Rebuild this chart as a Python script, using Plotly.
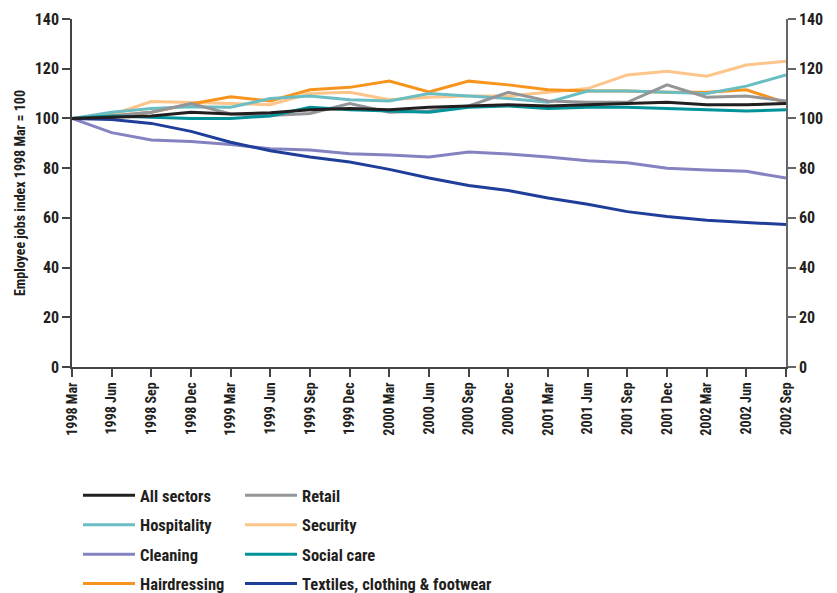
import plotly.graph_objects as go

quarters = ["1998 Mar", "1998 Jun", "1998 Sep", "1998 Dec", "1999 Mar", "1999 Jun", "1999 Sep",
            "1999 Dec", "2000 Mar", "2000 Jun", "2000 Sep", "2000 Dec", "2001 Mar", "2001 Jun",
            "2001 Sep", "2001 Dec", "2002 Mar", "2002 Jun", "2002 Sep"]

all_sectors = [100, 100.5, 101, 102.5, 101.8, 102.3, 103.5, 104, 103.5, 104.5, 105, 105.5, 105, 105.5, 106, 106.5, 105.5, 105.5, 106]
retail = [100, 101, 102.5, 106, 101.8, 101.2, 102, 106, 102.5, 103, 105, 110.5, 107, 106.5, 106.5, 113.5, 108.5, 109, 107]
hospitality = [100, 102.5, 104, 104.7, 104.5, 108, 109, 107.5, 107, 110, 109, 108, 106.5, 111, 111, 110.5, 110, 113, 117.5]
security = [100, 101.5, 106.8, 106.5, 106, 105.5, 110, 110.5, 107.5, 108.5, 109, 109, 110.5, 112, 117.5, 119, 117, 121.5, 123]
cleaning = [100, 94.3, 91.3, 90.7, 89.5, 87.8, 87.3, 85.8, 85.3, 84.5, 86.5, 85.7, 84.5, 83, 82.2, 80, 79.3, 78.7, 76]
social_care = [100, 101, 100.5, 100, 100, 101, 104.5, 103.5, 103, 102.5, 104.5, 105, 104, 104.5, 104.5, 104, 103.5, 103, 103.5]
hairdressing = [100, 101, 102.5, 105.8, 108.7, 107, 111.5, 112.5, 115, 110.7, 115, 113.5, 111.5, 111, 111, 110.5, 110.5, 111.5, 106.3]
textiles = [100, 99.6, 98, 94.8, 90.4, 87, 84.5, 82.5, 79.5, 76, 73, 71, 68, 65.5, 62.5, 60.5, 59, 58.3, 57.3]

y_ticks = [0, 20, 40, 60, 80, 100, 120, 140]
y_title = "Employee jobs index 1998 Mar = 100"

series = [
    ("All sectors", all_sectors, "#231f20", "legend", 1),
    ("Hospitality", hospitality, "#6bbdc4", "legend", 2),
    ("Cleaning", cleaning, "#8582c1", "legend", 3),
    ("Hairdressing", hairdressing, "#f7941d", "legend", 4),
    ("Retail", retail, "#939598", "legend2", 1),
    ("Security", security, "#fdc58a", "legend2", 2),
    ("Social care", social_care, "#00939a", "legend2", 3),
    ("Textiles, clothing & footwear", textiles, "#1f3e99", "legend2", 4),
]

draw_order = ["Security", "Hairdressing", "Hospitality", "Retail", "Social care", "Cleaning",
              "Textiles, clothing & footwear", "All sectors"]

FONT = "Roboto Condensed, Liberation Sans Narrow, Arial Narrow, Roboto, sans-serif"

fig = go.Figure()
lookup = {s[0]: s for s in series}
for name in draw_order:
    nm, vals, col, leg, rank = lookup[name]
    fig.add_trace(go.Scatter(
        x=quarters, y=vals, mode="lines", name=nm,
        line=dict(color=col, width=3),
        legend=leg, legendgroup=nm, legendrank=rank,
        yaxis="y2" if nm == "All sectors" else "y",
        hoverinfo="x+y+name",
    ))

W, H = 837, 593
axis_col = "#444444"
bold = dict(family=FONT, color="#231f20", weight="bold")
leg_top = 1 - 470 / H
fig.update_layout(
    width=W, height=H,
    margin=dict(l=64, r=59, t=11, b=234, autoexpand=False),
    paper_bgcolor="white", plot_bgcolor="white",
    font=dict(family=FONT, size=14, color="#231f20"),
    showlegend=True,
    xaxis=dict(
        type="category", range=[0, 18], showgrid=False, zeroline=False, automargin=False,
        showline=True, linecolor=axis_col, linewidth=1.5,
        ticks="outside", ticklen=8, tickcolor=axis_col, tickwidth=1.5,
        tickangle=-90, tickfont=dict(size=14, **bold),
    ),
    yaxis=dict(
        range=[0, 140], tickvals=y_ticks, showgrid=False, zeroline=False, automargin=False,
        showline=True, linecolor=axis_col, linewidth=1.5,
        ticks="outside", ticklen=8, tickcolor=axis_col, tickwidth=1.5,
        tickfont=dict(size=16, **bold),
    ),
    yaxis2=dict(
        range=[0, 140], tickvals=y_ticks, overlaying="y", side="right", automargin=False,
        showgrid=False, zeroline=False, showline=True, linecolor="#666666", linewidth=1.5,
        ticks="outside", ticklen=8, tickcolor="#666666", tickwidth=1.5,
        tickfont=dict(size=16, **bold),
    ),
    legend=dict(
        xref="container", yref="container",
        x=70 / W, y=leg_top, xanchor="left", yanchor="top",
        orientation="v", traceorder="grouped", tracegroupgap=5,
        font=dict(size=16.5, **bold), bgcolor="rgba(0,0,0,0)",
        itemwidth=52,
    ),
    legend2=dict(
        xref="container", yref="container",
        x=232 / W, y=leg_top, xanchor="left", yanchor="top",
        orientation="v", traceorder="grouped", tracegroupgap=5,
        font=dict(size=16.5, **bold), bgcolor="rgba(0,0,0,0)",
        itemwidth=52,
    ),
    annotations=[dict(
        text=y_title, xref="paper", yref="paper", x=-(64 - 12) / (W - 64 - 59), y=0.5,
        xanchor="center", yanchor="middle", textangle=-90, showarrow=False,
        font=dict(size=14, **bold),
    )],
)

fig.write_html("out.html")
